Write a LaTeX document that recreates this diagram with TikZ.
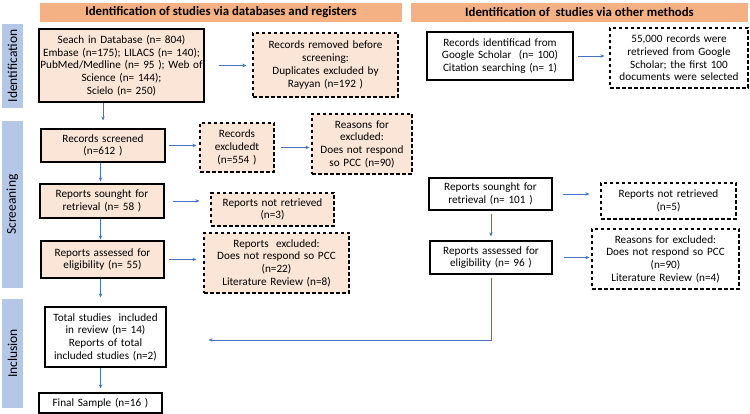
\documentclass[tikz,border=0pt]{standalone}
\usepackage{fontspec}
\setmainfont{Carlito}
\usetikzlibrary{arrows.meta}
\definecolor{peach}{HTML}{FBE5D6}
\definecolor{hdr}{HTML}{F4B183}
\definecolor{phase}{HTML}{B4C7E7}
\definecolor{arrblue}{HTML}{4472C4}
\tikzstyle{boxw}=[draw,line width=1.1pt,fill=white,align=center,inner sep=0pt,font=\fontsize{11.2}{12.7}\selectfont]
\tikzstyle{boxp}=[boxw,fill=peach]
\tikzstyle{boxdw}=[boxw,dash pattern=on 3.5pt off 2.5pt]
\tikzstyle{boxdp}=[boxdw,fill=peach]
\tikzstyle{headr}=[fill=hdr,inner sep=0pt,minimum height=19pt,font=\fontsize{12.8}{14}\selectfont\bfseries]
\tikzstyle{barb}=[fill=phase,rotate=90,inner sep=0pt,minimum height=21pt,font=\fontsize{13.5}{15}\selectfont]
\tikzstyle{arrb}=[draw=arrblue,line width=0.8pt,-{Stealth[length=4pt,width=3.5pt]}]
\tikzset{bw/.style={minimum width=#1,text width=#1}}

\begin{document}
\begin{tikzpicture}[x=1pt,y=-1pt]
    \useasboundingbox (0,0) rectangle (750,414);
    % headers and phases
    \node[headr,minimum width=362pt] (hd1) at (221,12.5) {Identification of studies via databases and registers};
    \node[headr,minimum width=337pt] (hd2) at (579.5,12.5) {Identification of\ \ studies via other methods};
    \node[barb,minimum width=84pt] (ph1) at (12.5,66) {Identification};
    \node[barb,minimum width=167pt] (ph2) at (12.5,204.5) {Screeaning};
    \node[barb,minimum width=109pt] (ph3) at (12.5,353.5) {Inclusion};

    % databases and registers
    \node[boxp,bw=165pt,minimum height=73pt] (srch) at (121.5,65.5)
        {Seach in Database (n= 804)\\Embase (n=175); LILACS (n= 140);\\PubMed/Medline (n= 95 ); Web of\\Science (n= 144);\\Scielo (n= 250)};
    \node[boxdp,bw=145pt,minimum height=64pt] (rmvd) at (325.5,65)
        {Records removed before\\screening:\\Duplicates excluded by\\Rayyan (n=192 )};
    \node[boxp,bw=124pt,minimum height=33pt] (scrn) at (103,145.5) {Records screened\\(n=612 )};
    \node[boxdp,bw=74pt,minimum height=49pt] (excl) at (237,147.5) {Records\\excludedt\\(n=554 )};
    \node[boxdp,bw=100pt,minimum height=60pt] (rsn1) at (362,144)
        {Reasons for\\excluded:\\Does not respond\\so PCC (n=90)};
    \node[boxp,bw=124pt,minimum height=34pt] (sgt1) at (102,201) {Reports sounght for\\retrieval (n= 58 )};
    \node[boxdp,bw=123pt,minimum height=33pt] (nrt1) at (272.5,209.5) {Reports not retrieved\\(n=3)};
    \node[boxp,bw=123pt,minimum height=37pt] (asd1) at (102.5,259.5) {Reports assessed for\\eligibility (n= 55)};
    \node[boxdp,bw=145pt,minimum height=60pt] (rex1) at (276.5,263)
        {Reports\ \ excluded:\\Does not respond so PCC\\(n=22)\\Literature Review (n=8)};
    \node[boxw,bw=121pt,minimum height=60pt] (totl) at (105.5,337)
        {Total studies\ \ included\\in review (n= 14)\\Reports of total\\included studies (n=2)};
    \node[boxw,bw=123pt,minimum height=20pt] (finl) at (100.5,403) {Final Sample (n=16 )};

    % other methods
    \node[boxw,bw=146pt,minimum height=48pt] (rcid) at (500,56)
        {Records identificad from\\Google Scholar\ \ (n= 100)\\Citation searching (n= 1)};
    \node[boxdw,bw=138pt,minimum height=60pt] (ggl) at (679,58)
        {55,000 records were\\retrieved from Google\\Scholar; the first 100\\documents were selected};
    \node[boxw,bw=123pt,minimum height=32pt] (sgt2) at (490.5,194) {Reports sounght for\\retrieval (n= 101 )};
    \node[boxdw,bw=135pt,minimum height=36pt] (nrt2) at (668.5,201) {Reports not retrieved\\(n=5)};
    \node[boxw,bw=122pt,minimum height=33pt] (asd2) at (491,257.5) {Reports assessed for\\eligibility (n= 96 )};
    \node[boxdw,bw=147pt,minimum height=60pt] (rsn2) at (665.5,259)
        {Reasons for excluded:\\Does not respond so PCC\\(n=90)\\Literature Review (n=4)};

    % arrows
    \draw[arrb,shorten <=14pt,shorten >=6pt] (srch.east) -- (srch.east -| rmvd.west);
    \draw[arrb,shorten <=3pt,shorten >=3pt] (scrn.east) -- (scrn.east -| excl.west);
    \draw[arrb,shorten <=6pt,shorten >=2pt] (excl.east) -- (excl.east -| rsn1.west);
    \draw[arrb,shorten <=8pt,shorten >=11pt] (sgt1.east) -- (sgt1.east -| nrt1.west);
    \draw[arrb,shorten <=4pt,shorten >=7pt] (asd1.east) -- (asd1.east -| rex1.west);
    \draw[arrb,shorten <=4pt,shorten >=5pt] (rcid.east) -- (rcid.east -| ggl.west);
    \draw[arrb,shorten <=10pt,shorten >=11pt] (sgt2.east) -- (sgt2.east -| nrt2.west);
    \draw[arrb,shorten <=11pt,shorten >=2pt] (asd2.east) -- (asd2.east -| rsn2.west);
    \draw[arrb,shorten >=8pt] (scrn.north |- srch.south) -- (scrn.north);
    \draw[arrb,shorten >=2pt] (scrn.south -| finl.north) -- (sgt1.north -| finl.north);
    \draw[arrb,shorten >=1pt] (sgt1.south -| finl.north) -- (asd1.north -| finl.north);
    \draw[arrb,shorten >=9pt] (asd1.south -| finl.north) -- (totl.north -| finl.north);
    \draw[arrb,shorten >=4pt] (totl.south -| finl.north) -- (finl.north);
    \draw[arrb,shorten <=3pt,shorten >=4pt] (sgt2.south -| asd2.north) -- (asd2.north);
    \draw[arrb,shorten <=3pt,shorten >=42pt] (asd2.south) |- ([yshift=-3pt]totl.east);
\end{tikzpicture}
\end{document}
